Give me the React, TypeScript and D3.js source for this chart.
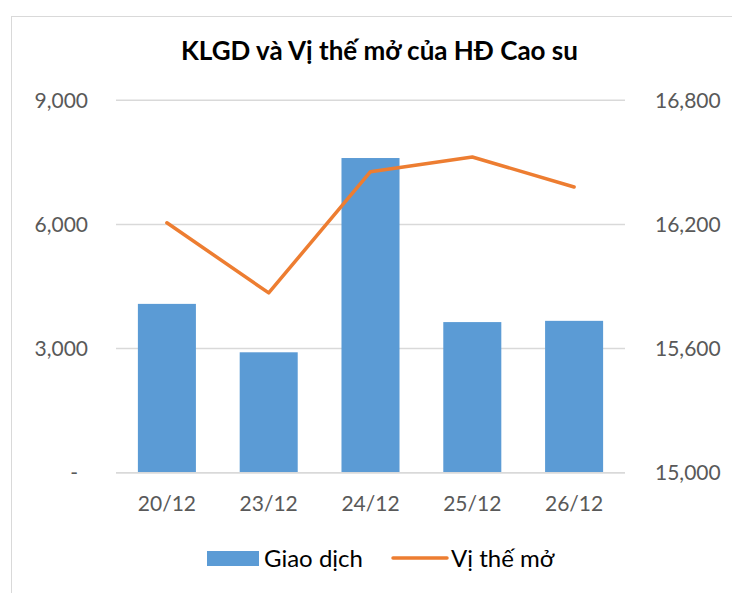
import React, { useRef, useEffect } from 'react'
import * as d3 from 'd3'

const WIDTH = 732
const HEIGHT = 593
const PLOT = { left: 116, right: 625, top: 100.3, bottom: 472.7 }
const FONT = 'Lato, "Noto Sans", sans-serif'

const TITLE = 'KLGD và Vị thế mở của HĐ Cao su'
const categories = ['20/12', '23/12', '24/12', '25/12', '26/12']
const giaoDich = [4080, 2910, 7605, 3640, 3670]
const viTheMo = [16208, 15869, 16455, 16526, 16381]
const leftTicks = [0, 3000, 6000, 9000]
const rightTicks = [15000, 15600, 16200, 16800]
const seriesNames = ['Giao dịch', 'Vị thế mở']

const colors = {
  bar: '#5b9bd5',
  line: '#ed7d31',
  grid: '#d9d9d9',
  tick: '#595959',
  text: '#000000'
}

const fmt = d3.format(',')

const App = () => {
  const ref = useRef<SVGSVGElement>(null)

  useEffect(() => {
    const svg = d3.select(ref.current)
    svg.selectAll('*').remove()

    const x = d3
      .scaleBand()
      .domain(categories)
      .range([PLOT.left, PLOT.right])
      .paddingInner(0.43)
      .paddingOuter(0.215)

    const yLeft = d3.scaleLinear().domain([0, 9000]).range([PLOT.bottom, PLOT.top])
    const yRight = d3.scaleLinear().domain([15000, 16800]).range([PLOT.bottom, PLOT.top])

    // chart frame (runs off the right and bottom edges)
    svg
      .append('rect')
      .attr('x', 11.5)
      .attr('y', 16.5)
      .attr('width', 740)
      .attr('height', 600)
      .attr('fill', 'white')
      .attr('stroke', colors.grid)
      .attr('stroke-width', 1)

    svg
      .append('text')
      .attr('x', 379.5)
      .attr('y', 60)
      .attr('text-anchor', 'middle')
      .attr('font-family', FONT)
      .attr('font-weight', 700)
      .attr('font-size', 26)
      .attr('fill', colors.text)
      .text(TITLE)

    // gridlines
    svg
      .append('g')
      .selectAll('line')
      .data(leftTicks)
      .join('line')
      .attr('x1', PLOT.left)
      .attr('x2', PLOT.right)
      .attr('y1', d => yLeft(d))
      .attr('y2', d => yLeft(d))
      .attr('stroke', colors.grid)
      .attr('stroke-width', 1.5)

    // left axis labels
    svg
      .append('g')
      .selectAll('text')
      .data(leftTicks)
      .join('text')
      .attr('x', d => (d === 0 ? 78 : 88))
      .attr('y', d => yLeft(d) + 7.5)
      .attr('text-anchor', 'end')
      .attr('font-family', FONT)
      .attr('font-size', 21)
      .attr('fill', colors.tick)
      .text(d => (d === 0 ? '-' : fmt(d)))

    // right axis labels
    svg
      .append('g')
      .selectAll('text')
      .data(rightTicks)
      .join('text')
      .attr('x', 655)
      .attr('y', d => yRight(d) + 7.5)
      .attr('font-family', FONT)
      .attr('font-size', 21)
      .attr('fill', colors.tick)
      .text(d => fmt(d))

    // bars
    svg
      .append('g')
      .selectAll('rect')
      .data(giaoDich)
      .join('rect')
      .attr('x', (d, i) => x(categories[i]))
      .attr('y', d => yLeft(d))
      .attr('width', x.bandwidth())
      .attr('height', d => yLeft(0) - yLeft(d))
      .attr('fill', colors.bar)

    // baseline
    svg
      .append('line')
      .attr('x1', PLOT.left)
      .attr('x2', PLOT.right)
      .attr('y1', yLeft(0))
      .attr('y2', yLeft(0))
      .attr('stroke', colors.grid)
      .attr('stroke-width', 1.5)

    // category labels
    svg
      .append('g')
      .selectAll('text')
      .data(categories)
      .join('text')
      .attr('x', d => x(d) + x.bandwidth() / 2)
      .attr('y', 511)
      .attr('text-anchor', 'middle')
      .attr('font-family', FONT)
      .attr('font-size', 21)
      .attr('fill', colors.tick)
      .text(d => d)

    // line series
    const line = d3
      .line<number>()
      .x((d, i) => x(categories[i]) + x.bandwidth() / 2)
      .y(d => yRight(d))

    svg
      .append('path')
      .datum(viTheMo)
      .attr('d', line)
      .attr('fill', 'none')
      .attr('stroke', colors.line)
      .attr('stroke-width', 3.5)
      .attr('stroke-linejoin', 'round')
      .attr('stroke-linecap', 'round')

    // legend
    const legend = svg.append('g').attr('font-family', FONT).attr('font-size', 24)
    legend
      .append('rect')
      .attr('x', 207)
      .attr('y', 551)
      .attr('width', 52)
      .attr('height', 15)
      .attr('fill', colors.bar)
    legend
      .append('text')
      .attr('x', 264)
      .attr('y', 567)
      .attr('fill', colors.text)
      .text(seriesNames[0])
    legend
      .append('line')
      .attr('x1', 393)
      .attr('x2', 447)
      .attr('y1', 558)
      .attr('y2', 558)
      .attr('stroke', colors.line)
      .attr('stroke-width', 3.5)
      .attr('stroke-linecap', 'round')
    legend
      .append('text')
      .attr('x', 451)
      .attr('y', 567)
      .attr('fill', colors.text)
      .text(seriesNames[1])
  }, [])

  return (
    <svg
      ref={ref}
      width={WIDTH}
      height={HEIGHT}
      style={{ position: 'absolute', left: 0, top: 0, background: 'white' }}
    />
  )
}

export default App
